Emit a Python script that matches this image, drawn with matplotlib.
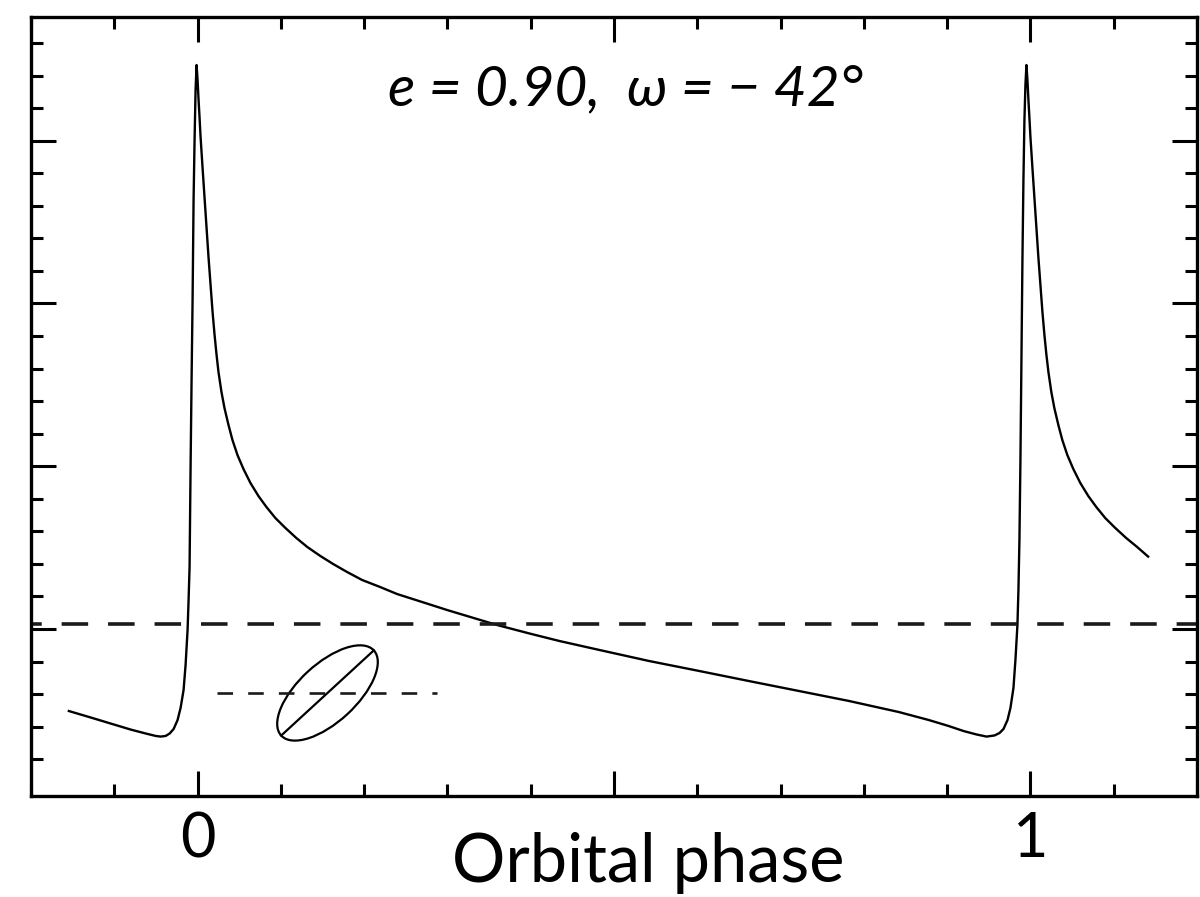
import numpy as np
import matplotlib
matplotlib.use("Agg")
import matplotlib.pyplot as plt
from matplotlib.patches import Ellipse
from matplotlib.transforms import Affine2D, ScaledTranslation
from matplotlib.ticker import FixedLocator, MultipleLocator

# ---------------- data ----------------
phase = [
    # decline before first periastron and rise
    -0.1545, -0.1281, -0.1042, -0.0802, -0.0623, -0.0503, -0.0443, -0.0383,
    -0.0335, -0.0287, -0.0240, -0.0204, -0.0168, -0.0144, -0.0120, -0.0108,
    -0.0096, -0.0084, -0.0072, -0.0060, -0.0048, -0.0036, -0.0024, -0.0012,
    # fall after first peak
    0.0000, 0.0012, 0.0024, 0.0036, 0.0060, 0.0084, 0.0108, 0.0132, 0.0156,
    0.0180, 0.0204, 0.0228, 0.0251, 0.0287, 0.0323, 0.0371, 0.0419, 0.0479,
    0.0551, 0.0635, 0.0731, 0.0826, 0.0934, 0.1054, 0.1186, 0.1317, 0.1473,
    0.1629, 0.1796, 0.1976, 0.2192, 0.2395, 0.2695, 0.2994, 0.3293, 0.3593,
    0.3988, 0.4347, 0.4826, 0.5425, 0.6024, 0.6623, 0.7222, 0.7820, 0.8419,
    0.8778, 0.9018, 0.9198, 0.9353, 0.9473,
    # second rise
    0.9569, 0.9629, 0.9677, 0.9725, 0.9760, 0.9796, 0.9820, 0.9844, 0.9856,
    0.9868, 0.9880, 0.9892, 0.9904, 0.9916, 0.9928, 0.9940, 0.9952,
    # fall after second peak
    0.9964, 0.9976, 0.9988, 1.0000, 1.0024, 1.0048, 1.0072, 1.0096, 1.0120,
    1.0144, 1.0168, 1.0192, 1.0216, 1.0251, 1.0287, 1.0335, 1.0383, 1.0443,
    1.0515, 1.0599, 1.0695, 1.0790, 1.0898, 1.1018, 1.1150, 1.1281, 1.1413,
]
radial_velocity = [
    -0.504, -0.544, -0.581, -0.618, -0.642, -0.657, -0.661, -0.657,
    -0.642, -0.614, -0.559, -0.485, -0.375, -0.221, -0.006, 0.178,
    0.381, 0.995, 1.530, 2.021, 2.636, 3.005, 3.312, 3.465,
    3.373, 3.250, 3.140, 3.023, 2.833, 2.648, 2.464, 2.280, 2.114,
    1.948, 1.807, 1.684, 1.579, 1.456, 1.358, 1.254, 1.161, 1.069,
    0.983, 0.897, 0.817, 0.750, 0.682, 0.621, 0.559, 0.504, 0.449,
    0.399, 0.350, 0.301, 0.258, 0.215, 0.166, 0.117, 0.071, 0.025,
    -0.028, -0.074, -0.129, -0.197, -0.258, -0.320, -0.381, -0.442, -0.510,
    -0.559, -0.596, -0.627, -0.648, -0.661,
    -0.654, -0.639, -0.614, -0.559, -0.485, -0.363, -0.190, 0.025, 0.240,
    0.547, 1.038, 1.653, 2.267, 2.759, 3.127, 3.343, 3.465,
    3.373, 3.250, 3.140, 3.023, 2.833, 2.648, 2.464, 2.280, 2.114,
    1.948, 1.807, 1.684, 1.579, 1.456, 1.358, 1.254, 1.161, 1.069,
    0.983, 0.897, 0.817, 0.750, 0.682, 0.621, 0.559, 0.504, 0.445,
]
systemic_velocity = 0.031          # long dashed line
node_line_phase = [0.0228, 0.2874]  # short dashed line (line of nodes)
node_line_rv = -0.393
orbit_center = (0.156, -0.393)      # orbit sketch centre (phase, rv)
orbit_semi_major_pt = 45.3          # points
orbit_semi_minor_pt = 20.9          # points
orbit_tilt_deg = 42.6

x_major_ticks = [0, 0.5, 1]
x_major_labels = ["0", "", "1"]
y_major_ticks = [0, 1, 2, 3]
y_minor_ticks = [-0.8, -0.6, -0.4, -0.2, 0.2, 0.4, 0.6, 0.8, 1.2, 1.4, 1.6,
                 1.8, 2.2, 2.4, 2.6, 2.8, 3.2, 3.4, 3.6]

title_text = "e = 0.90,  \u03c9 = \u2212 42\u00b0"
xlabel_text = "Orbital phase"

# ---------------- figure ----------------
plt.rcParams["lines.scale_dashes"] = False
FONT = ["Lato", "DejaVu Sans"]

fig = plt.figure(figsize=(12, 8.97), dpi=100)
ax = fig.add_axes([31 / 1200, 1 - 796 / 897, 1166 / 1200, 779 / 897])

ax.set_xlim(-0.2, 1.2)
ax.set_ylim(-1.026, 3.76)

ax.plot(phase, radial_velocity, color="black", lw=1.7)

ax.axhline(systemic_velocity, color="#1a1a1a", lw=2.6,
           linestyle=(11.4, (19.1, 14.35)))
ax.plot(node_line_phase, [node_line_rv, node_line_rv], color="#1a1a1a", lw=1.9,
        linestyle=(0, (11.2, 10.9)))

# orbit sketch, drawn in points around a data-space centre
pt = fig.dpi / 72.0
orbit_tr = Affine2D().scale(pt) + ScaledTranslation(orbit_center[0], orbit_center[1], ax.transData)
ax.add_patch(Ellipse((0, 0), 2 * orbit_semi_major_pt, 2 * orbit_semi_minor_pt,
                     angle=orbit_tilt_deg, fill=False, ec="black", lw=1.6,
                     transform=orbit_tr))
th = np.deg2rad(orbit_tilt_deg)
ax.plot([-orbit_semi_major_pt * np.cos(th), orbit_semi_major_pt * np.cos(th)],
        [-orbit_semi_major_pt * np.sin(th), orbit_semi_major_pt * np.sin(th)],
        color="black", lw=1.6, transform=orbit_tr)

# axes styling
for s in ax.spines.values():
    s.set_linewidth(2.4)
ax.set_xticks(x_major_ticks)
ax.set_xticklabels(x_major_labels, family=FONT, fontsize=44)
ax.xaxis.set_minor_locator(MultipleLocator(0.1))
ax.yaxis.set_major_locator(FixedLocator(y_major_ticks))
ax.yaxis.set_minor_locator(FixedLocator(y_minor_ticks))
ax.set_yticklabels([])
ax.tick_params(which="both", direction="in", top=True, right=True, width=2.2)
ax.tick_params(which="major", length=18)
ax.tick_params(which="minor", length=8.6)
ax.tick_params(axis="x", which="major", pad=11)

ax.set_xlabel(xlabel_text, family=FONT, fontsize=48)
ax.xaxis.set_label_coords(0.529, -0.1104)
ax.xaxis.label.set_va("baseline")

ax.text(0.51, 0.887, title_text, transform=ax.transAxes, ha="center",
        va="baseline", fontsize=41, style="italic", family=FONT)

fig.savefig("out.png", dpi=100)
